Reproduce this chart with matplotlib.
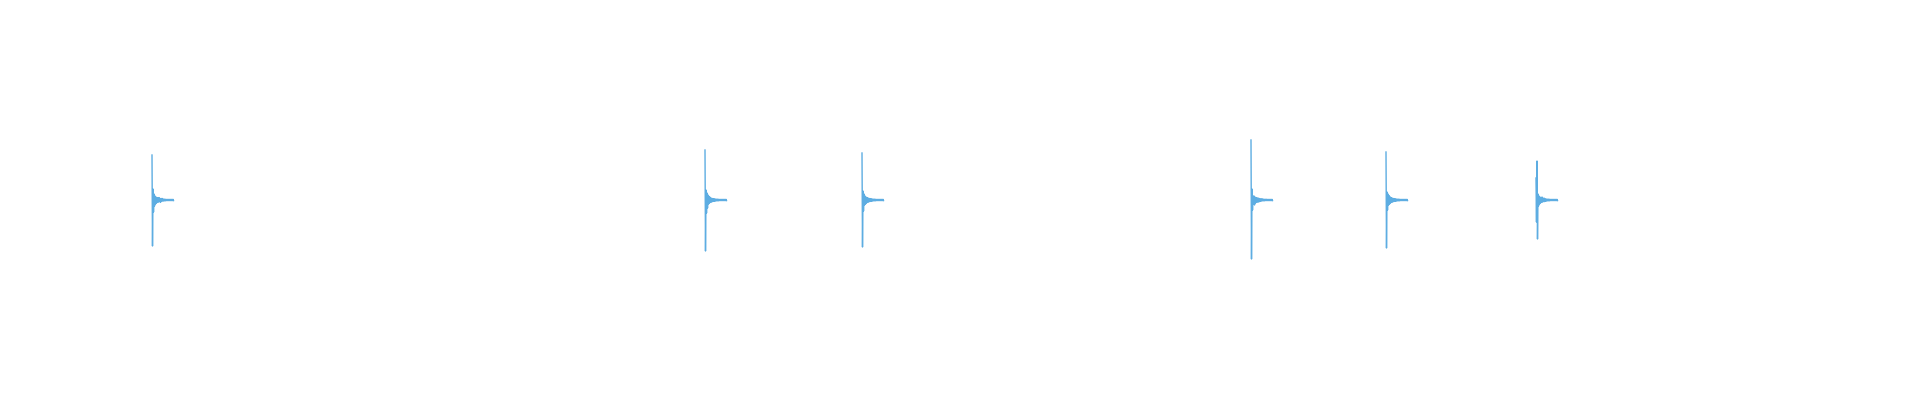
import numpy as np
import matplotlib
matplotlib.use("Agg")
import matplotlib.pyplot as plt

# Onset times of each hit (seconds), 100 px per second on a 19.2 s canvas
onsets = [1.52, 7.05, 8.62, 12.51, 13.86, 15.36]

# Envelope per 10 ms column after each onset: positive peak, negative peak
hit_pos = [
    [0.225, 0.055, 0.03, 0.02, 0.015, 0.012, 0.01, 0.012, 0.008, 0.006, 0.008, 0.005,
     0.004, 0.004, 0.003, 0.003, 0.003, 0.003, 0.003, 0.003, 0.003, 0.003],
    [0.25, 0.05, 0.035, 0.025, 0.018, 0.014, 0.01, 0.008, 0.006, 0.006, 0.005, 0.004,
     0.004, 0.004, 0.003, 0.003, 0.003, 0.003, 0.003, 0.003, 0.003, 0.003],
    [0.235, 0.045, 0.03, 0.02, 0.015, 0.012, 0.01, 0.008, 0.007, 0.006, 0.005, 0.004,
     0.004, 0.004, 0.003, 0.003, 0.003, 0.003, 0.003, 0.003, 0.003, 0.003],
    [0.30, 0.055, 0.02, 0.02, 0.015, 0.012, 0.01, 0.01, 0.008, 0.006, 0.005, 0.006,
     0.004, 0.004, 0.003, 0.004, 0.003, 0.003, 0.003, 0.003, 0.003, 0.003],
    [0.24, 0.04, 0.03, 0.022, 0.016, 0.012, 0.01, 0.008, 0.007, 0.006, 0.005, 0.004,
     0.004, 0.004, 0.003, 0.003, 0.003, 0.003, 0.003, 0.003, 0.003, 0.003],
    [0.11, 0.195, 0.03, 0.02, 0.015, 0.012, 0.015, 0.008, 0.01, 0.006, 0.005, 0.004,
     0.004, 0.004, 0.003, 0.003, 0.003, 0.003, 0.003, 0.003, 0.003, 0.003],
]
hit_neg = [
    [0.23, 0.06, 0.03, 0.02, 0.015, 0.012, 0.01, 0.008, 0.012, 0.006, 0.005, 0.005,
     0.004, 0.004, 0.003, 0.003, 0.003, 0.003, 0.003, 0.003, 0.003, 0.003],
    [0.255, 0.065, 0.04, 0.02, 0.015, 0.012, 0.01, 0.008, 0.006, 0.006, 0.005, 0.004,
     0.004, 0.004, 0.003, 0.003, 0.003, 0.003, 0.003, 0.003, 0.003, 0.003],
    [0.235, 0.055, 0.025, 0.02, 0.015, 0.012, 0.01, 0.008, 0.007, 0.006, 0.005, 0.004,
     0.004, 0.004, 0.003, 0.003, 0.003, 0.003, 0.003, 0.003, 0.003, 0.003],
    [0.295, 0.05, 0.02, 0.025, 0.015, 0.012, 0.01, 0.01, 0.008, 0.006, 0.005, 0.004,
     0.004, 0.004, 0.003, 0.003, 0.003, 0.003, 0.003, 0.003, 0.003, 0.003],
    [0.24, 0.05, 0.025, 0.02, 0.015, 0.012, 0.01, 0.008, 0.007, 0.006, 0.005, 0.004,
     0.004, 0.004, 0.003, 0.003, 0.003, 0.003, 0.003, 0.003, 0.003, 0.003],
    [0.11, 0.195, 0.03, 0.02, 0.015, 0.012, 0.01, 0.008, 0.008, 0.006, 0.005, 0.004,
     0.004, 0.004, 0.003, 0.003, 0.003, 0.003, 0.003, 0.003, 0.003, 0.003],
]

col_dt = 0.01
color = "#5DADE2"

fig = plt.figure(figsize=(19.2, 4), dpi=100)
ax = fig.add_axes([0, 0, 1, 1])
ax.set_xlim(0, 19.2)
ax.set_ylim(-1, 1)
ax.axis("off")

for t0, pos, neg in zip(onsets, hit_pos, hit_neg):
    pos = np.asarray(pos)
    neg = np.asarray(neg)
    n = len(pos)
    t = np.empty(2 * n)
    y = np.empty(2 * n)
    t[0::2] = t0 + np.arange(n) * col_dt
    t[1::2] = t0 + np.arange(n) * col_dt + col_dt / 2
    y[0::2] = pos
    y[1::2] = -neg
    ax.plot(t, y, color=color, linewidth=1.0)

fig.savefig("out.png", dpi=100)
